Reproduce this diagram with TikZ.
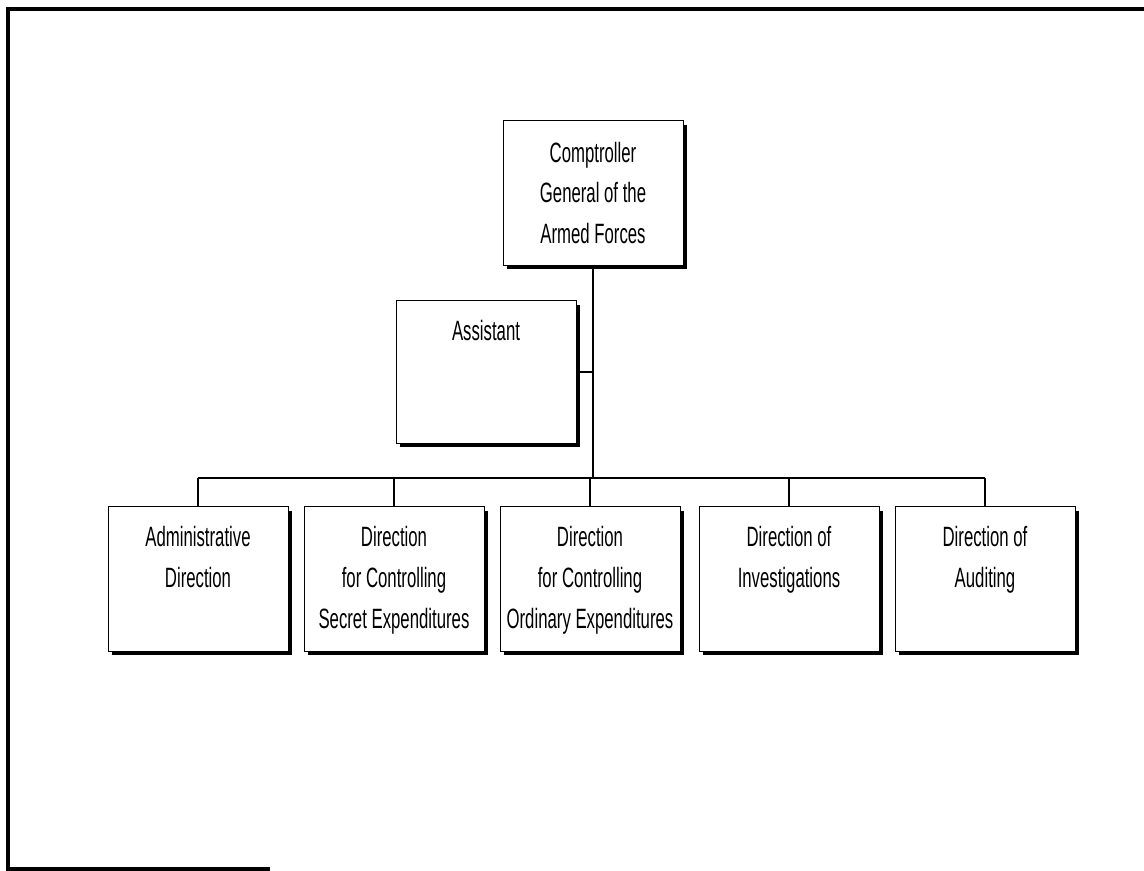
\documentclass[tikz,border=0pt]{standalone}
\usepackage{fontspec}
\newfontfamily\orgfont{Liberation Sans}[FakeStretch=0.6]
\usetikzlibrary{shadows,calc,positioning}

\begin{document}
\begin{tikzpicture}[x=0.02cm, y=-0.02cm]
		\tikzstyle{every node}=[font=\orgfont\fontsize{15.9}{23.2}\selectfont]
		\tikzstyle{unit}=[draw, line width=0.5pt, fill=white, minimum width=3.6cm, minimum height=2.9cm, inner sep=0pt, drop shadow={shadow xshift=0.08cm, shadow yshift=-0.08cm, opacity=1, fill=black}]
		\tikzstyle{unittext}=[align=center, anchor=north, inner sep=0pt]
		\tikzstyle{link}=[line width=0.8pt]
		\useasboundingbox (0,0) rectangle (1144,871);
		% frame of the page
		\draw [line width=2pt] (1144,9) -- (8,9) -- (8,869) -- (270,869);
		% boxes
		\node [unit, align=center] (cgaf) at (593,193) {Comptroller\\General of the\\Armed Forces};
		\node [unit, minimum height=2.86cm] (assist) at (486,372) {};
		\node [unit] (admin) at (198,579) {};
		\node [unit] (secret) at (394,579) {};
		\node [unit] (ordinary) at (590,579) {};
		\node [unit] (invest) at (789,579) {};
		\node [unit] (audit) at (985,579) {};
		\node [unittext] at ($(assist.north)+(0,20)$) {Assistant};
		\node [unittext] at ($(admin.north)+(0,20)$) {Administrative\\Direction};
		\node [unittext] at ($(secret.north)+(0,20)$) {Direction\\for Controlling\\Secret Expenditures};
		\node [unittext] at ($(ordinary.north)+(0,20)$) {Direction\\for Controlling\\Ordinary Expenditures};
		\node [unittext] at ($(invest.north)+(0,20)$) {Direction of\\Investigations};
		\node [unittext] at ($(audit.north)+(0,20)$) {Direction of\\Auditing};
		% connectors
		\coordinate (bus) at (593,478);
		\draw [link] (cgaf.south) -- (cgaf.south |- bus);
		\draw [link] (assist.east) -- (cgaf.south |- assist.east);
		\draw [link] (admin.north |- bus) -- (audit.north |- bus);
		\foreach \u in {admin,secret,ordinary,invest,audit}
			\draw [link] (\u.north) -- (\u.north |- bus);
	\end{tikzpicture}
\end{document}
